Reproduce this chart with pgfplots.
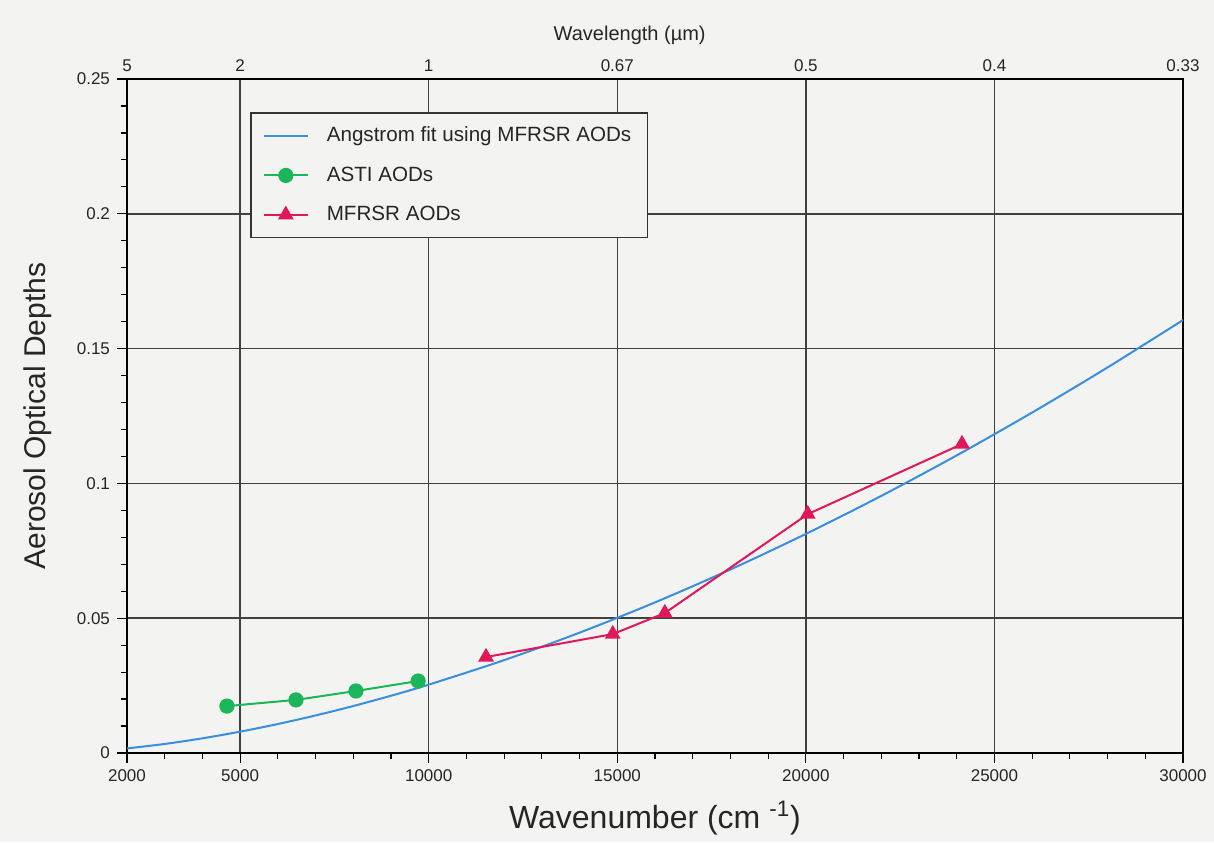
\documentclass[border=0pt]{standalone}
\usepackage{pgfplots}
\pgfplotsset{compat=1.18}
\usepackage{pgfplotstable}
\usepackage{fontspec}
\setmainfont{Liberation Sans}
\usetikzlibrary{backgrounds}
\definecolor{bgcol}{HTML}{F3F3F1}
\definecolor{fitblue}{HTML}{3A8EDE}
\definecolor{astigreen}{HTML}{1DB55A}
\definecolor{mfrsrred}{HTML}{E0185A}
\definecolor{gridcol}{HTML}{404040}

\pgfplotstableread{
nu tau
2000 0.00170
3000 0.00336
4000 0.00544
5000 0.00792
6000 0.01075
7000 0.01393
8000 0.01743
9000 0.02124
10000 0.02536
12000 0.03445
14000 0.04464
16000 0.05586
18000 0.06808
20000 0.08127
22000 0.09537
24000 0.11039
26000 0.12629
28000 0.14302
30000 0.16060
}\fittable

\pgfplotstableread{
nu tau
4650 0.0174
6480 0.0197
8070 0.0230
9720 0.0267
}\astitable

\pgfplotstableread{
nu tau
11520 0.0356
14880 0.0441
16260 0.0519
20050 0.0886
24140 0.1146
}\mfrsrtable

\begin{document}
\begin{tikzpicture}
\begin{axis}[
  name=main,
  scale only axis, width=528pt, height=337pt,
  xmin=2000, xmax=30000, ymin=0, ymax=0.25,
  scaled x ticks=false, scaled y ticks=false,
  xtick={2000,5000,10000,15000,20000,25000,30000},
  xticklabels={2000,5000,10000,15000,20000,25000,30000},
  minor xtick={3000,4000,6000,7000,8000,9000,11000,12000,13000,14000,16000,17000,18000,19000,21000,22000,23000,24000,26000,27000,28000,29000},
  ytick={0,0.05,0.1,0.15,0.2,0.25},
  yticklabels={0,0.05,0.1,0.15,0.2,0.25},
  minor ytick={0.01,0.02,0.03,0.04,0.06,0.07,0.08,0.09,0.11,0.12,0.13,0.14,0.16,0.17,0.18,0.19,0.21,0.22,0.23,0.24},
  xtick pos=bottom, ytick pos=left,
  tick align=outside,
  major tick length=5pt, minor tick length=3pt,
  grid=major,
  major grid style={gridcol, line width=0.75pt},
  axis line style={black, line width=0.9pt},
  tick style={black, line width=0.6pt},
  ticklabel style={font=\fontsize{8.5}{10}\selectfont, text=black!85},
  /pgf/number format/assume math mode=true,
  xlabel={Wavenumber (cm \textsuperscript{-1})},
  ylabel={Aerosol Optical Depths},
  xlabel style={at={(axis description cs:0.5,-0.0965)}, anchor=center, font=\fontsize{16}{18}\selectfont, text=black!85},
  ylabel style={at={(axis description cs:-0.0843,0.5)}, anchor=center, font=\fontsize{15}{17}\selectfont, text=black!85},
  legend style={at={(0.1165,0.951)}, anchor=north west, draw=black!80, line width=0.8pt, fill=bgcol,
    font=\fontsize{10.3}{12}\selectfont, text=black!85, inner xsep=6pt, inner ysep=5pt, row sep=7pt,
    /tikz/every odd column/.append style={column sep=7pt}},
  legend cell align=left,
  legend image code/.code={\draw[mark repeat=2,mark phase=2,#1] plot coordinates {(0pt,0pt) (11pt,0pt) (22pt,0pt)};},
]
\addplot[fitblue, line width=1pt, smooth, no markers] table[x=nu,y=tau] {\fittable};
\addlegendentry{Angstrom fit using MFRSR AODs}
\addplot[astigreen, line width=1pt, mark=*, mark size=3.3pt, mark options={fill=astigreen, draw=astigreen}] table[x=nu,y=tau] {\astitable};
\addlegendentry{ASTI AODs}
\addplot[mfrsrred, line width=1pt, mark=triangle*, mark size=3.6pt, mark options={fill=mfrsrred, draw=mfrsrred}] table[x=nu,y=tau] {\mfrsrtable};
\addlegendentry{MFRSR AODs}
\coordinate (sw) at (rel axis cs:0,0);
\coordinate (ne) at (rel axis cs:1,1);
\end{axis}
\begin{axis}[
  scale only axis, width=528pt, height=337pt,
  xmin=2000, xmax=30000, ymin=0, ymax=0.25,
  scaled x ticks=false, scaled y ticks=false,
  axis x line*=top, hide y axis,
  axis line style={draw=none},
  xtick={2000,5000,10000,15000,20000,25000,30000},
  xticklabels={5,2,1,0.67,0.5,0.4,0.33},
  major tick length=0pt,
  ticklabel style={font=\fontsize{8.5}{10}\selectfont, text=black!85},
  /pgf/number format/assume math mode=true,
  xlabel={Wavelength (µm)},
  xlabel style={at={(axis description cs:0.476,1.0653)}, anchor=center, font=\fontsize{10}{12}\selectfont, text=black!85},
]
\end{axis}
\begin{scope}[on background layer]
\fill[bgcol] ([xshift=-63.5pt,yshift=-44.5pt]sw) rectangle ([xshift=15.5pt,yshift=39.5pt]ne);
\end{scope}
\end{tikzpicture}
\end{document}
